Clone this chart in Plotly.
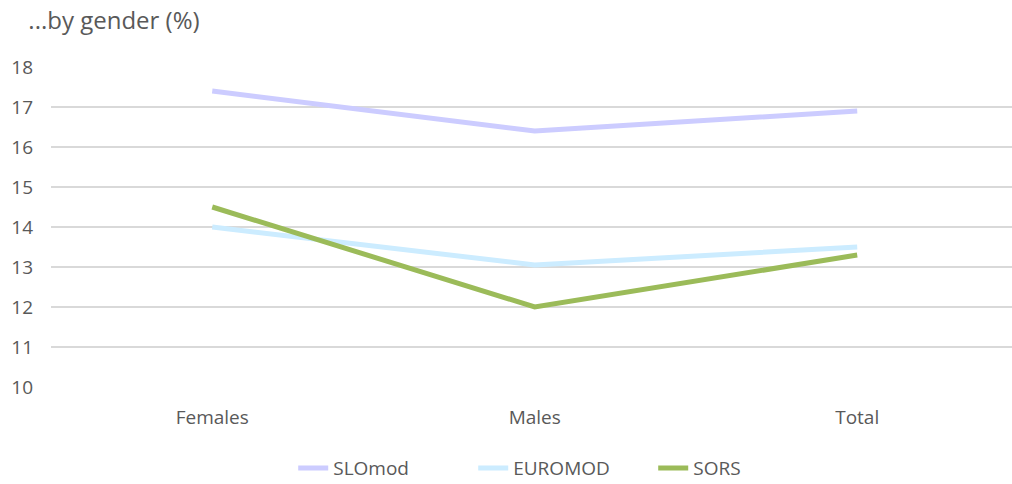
import plotly.graph_objects as go

categories = ["Females", "Males", "Total"]
slomod = [17.4, 16.4, 16.9]
euromod = [14.0, 13.05, 13.5]
sors = [14.5, 12.0, 13.3]
y_ticks = [10, 11, 12, 13, 14, 15, 16, 17, 18]

FONT = "Open Sans, Noto Sans, sans-serif"
GRAY = "#595959"

fig = go.Figure()
for name, vals, col in [("SLOmod", slomod, "#CCCCFF"),
                        ("EUROMOD", euromod, "#CCECFF"),
                        ("SORS", sors, "#9BBB59")]:
    fig.add_trace(go.Scatter(x=[0, 1, 2], y=vals, name=name, mode="lines",
                             line=dict(color=col, width=5)))

fig.update_layout(
    width=1012, height=484,
    margin=dict(l=51, r=0, t=67, b=97, autoexpand=False),
    paper_bgcolor="white", plot_bgcolor="white",
    font=dict(family=FONT, color=GRAY, size=19),
    title=dict(text="...by gender (%)", x=0.028, xanchor="left", y=0.958, yanchor="middle",
               font=dict(size=24, color=GRAY, family=FONT)),
    showlegend=True,
    legend=dict(orientation="h", x=0.533, xanchor="center", yref="container",
                y=0.033, yanchor="middle",
                font=dict(size=19, color=GRAY), traceorder="normal",
                entrywidth=135, entrywidthmode="pixels"),
    xaxis=dict(range=[-0.5, 2.48], tickvals=[0, 1, 2], ticktext=categories,
               showgrid=False, zeroline=False, showline=False, ticks="",
               ticklabelstandoff=17, tickfont=dict(size=19, color=GRAY)),
    yaxis=dict(range=[10, 18], tickvals=y_ticks, showgrid=True, gridcolor="#D9D9D9",
               gridwidth=1.5, zeroline=False, showline=False, ticks="",
               ticklabelstandoff=17, tickfont=dict(size=19, color=GRAY)),
)

fig.write_html("out.html", config={"displayModeBar": False},
               post_script="document.body.style.margin='0';document.body.style.overflow='hidden';")
